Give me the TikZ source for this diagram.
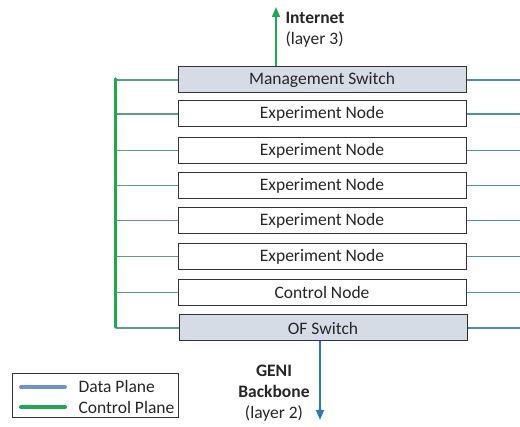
\documentclass[tikz,border=0pt]{standalone}
\usepackage{fontspec}
\setmainfont{Carlito}
\usetikzlibrary{arrows.meta}
\definecolor{swfill}{HTML}{D6DCE5}
\definecolor{boxline}{HTML}{333333}
\definecolor{ctrlgreen}{HTML}{1BAA4E}
\definecolor{ctrlthin}{HTML}{5A9E84}
\definecolor{datateal}{HTML}{4A8FAE}
\definecolor{datablue}{HTML}{2E78BE}
\definecolor{legblue}{HTML}{6E93CC}
\definecolor{txt}{HTML}{262626}
\begin{document}
\begin{tikzpicture}[x=1pt,y=-1pt,
  font=\fontsize{17.5}{21}\selectfont, text=txt,
  unit/.style={draw=boxline, line width=1pt, minimum width=288pt, minimum height=26pt, inner sep=0pt},
  switchbox/.style={unit, fill=swfill},
  hostbox/.style={unit, fill=white},
  ctrlline/.style={ctrlthin, line width=1.5pt},
  dataline/.style={datateal, line width=1.5pt}]
\useasboundingbox (0,0) rectangle (520,427);

% rack of units
\node[switchbox] (ms) at (322,80) {Management Switch};
\node[hostbox] (e1) at (322,114) {Experiment Node};
\node[hostbox] (e2) at (322,150.5) {Experiment Node};
\node[hostbox] (e3) at (322,185.5) {Experiment Node};
\node[hostbox] (e4) at (322,220.5) {Experiment Node};
\node[hostbox] (e5) at (322,256.5) {Experiment Node};
\node[hostbox] (cn) at (322,292.5) {Control Node};
\node[switchbox] (of) at (323,328) {OF Switch};

% control plane bus on the left, data plane stubs on the right
\coordinate (bustop) at (115.5,79);
\coordinate (busbot) at (115.5,327);
\coordinate (redge) at (520,0);
\foreach \n in {ms,e1,e2,e3,e4,e5,cn,of}{
  \draw[ctrlline] (\n.west) -- (\n.west -| bustop);
  \draw[dataline] (\n.east) -- (\n.east -| redge);
}
\draw[ctrlgreen, line width=3.5pt, line cap=round] (bustop) -- (busbot);

% uplinks
\coordinate (inet) at (276,7);
\draw[ctrlgreen, line width=1.4pt, -{Triangle[length=10pt,width=8pt]}] (ms.north -| inet) -- (inet);
\node[anchor=west, font=\fontsize{17.5}{21}\selectfont\bfseries] (inettxt) at (282,18) {Internet};
\node[anchor=west] (l3) at (282,40) {(layer 3)};

\coordinate (geni) at (320,420);
\draw[datablue, line width=1.4pt, -{Triangle[length=10pt,width=8pt]}] (of.south -| geni) -- (geni);
\node[align=center] (genitxt) at (274,393)
  {\textbf{GENI}\\\textbf{Backbone}\\(layer 2)};

% legend
\node[draw=boxline, line width=1pt, minimum width=166pt, minimum height=44pt, inner sep=0pt] (leg) at (95,396) {};
\coordinate (la) at (21,387);
\coordinate (lb) at (65,387);
\coordinate (lc) at (21,407);
\coordinate (ld) at (65,407);
\draw[legblue, line width=4pt, line cap=round] (la) -- (lb);
\draw[ctrlgreen, line width=4pt, line cap=round] (lc) -- (ld);
\node[anchor=west] (ldata) at (75,386) {Data Plane};
\node[anchor=west] (lctrl) at (75,407) {Control Plane};
\end{tikzpicture}
\end{document}
